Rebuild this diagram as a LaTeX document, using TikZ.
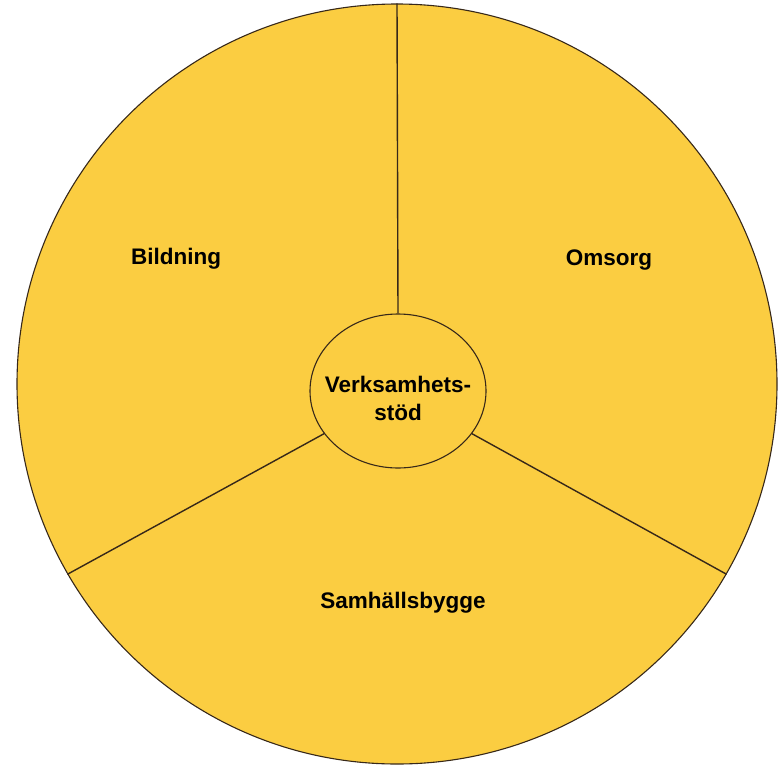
\documentclass[tikz,border=0pt]{standalone}
\usepackage{fontspec}
\setmainfont{Liberation Sans}
\usepackage{tikz}
\usetikzlibrary{shapes.geometric}
\definecolor{wheelfill}{RGB}{251,205,65}
\definecolor{rim}{RGB}{55,40,25}

\begin{document}
\begin{tikzpicture}[x=1pt, y=-1pt,
                   part/.style={font=\bfseries\fontsize{22.5}{28}\selectfont, align=center},
                   disc/.style={draw=rim, line width=1.1pt, fill=wheelfill, inner sep=0pt},
                   spoke/.style={draw=rim, line width=1.4pt}]
  \useasboundingbox (0,0) rectangle (778,768);
  \node[disc, circle, minimum size=760pt] (wheel) at (397,384) {};
  \node[disc, ellipse, minimum width=176pt, minimum height=154pt] (hub) at (398,391) {};
  \node[part] (stod) at (398,398) {Verksamhets-\\stöd};
  \draw[spoke] (hub.90) -- (wheel.90);
  \draw[spoke] (hub.210) -- (wheel.210);
  \draw[spoke] (hub.330) -- (wheel.330);
  \node[part] (bildning) at (176,259) {Bildning};
  \node[part] (omsorg) at (609,260) {Omsorg};
  \node[part] (samhalle) at (403,603) {Samhällsbygge};
\end{tikzpicture}
\end{document}
